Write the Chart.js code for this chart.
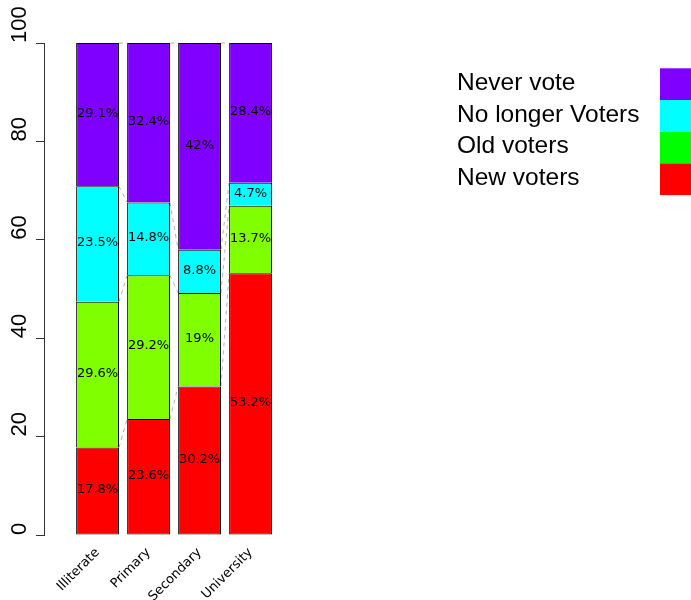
<!DOCTYPE html>
<html><head><meta charset="utf-8">
<script src="https://cdn.jsdelivr.net/npm/chart.js@4"></script>
<style>html,body{margin:0;padding:0;background:#fff;} canvas{display:block;}</style>
</head><body>
<canvas id="c" width="691" height="600"></canvas>
<script>
const categories = ['Illiterate', 'Primary', 'Secondary', 'University'];
const seriesNames = ['New voters', 'Old voters', 'No longer Voters', 'Never vote'];
const newVoters = [17.8, 23.6, 30.2, 53.2];
const oldVoters = [29.6, 29.2, 19, 13.7];
const noLongerVoters = [23.5, 14.8, 8.8, 4.7];
const neverVote = [29.1, 32.4, 42, 28.4];
const yTicks = [0, 20, 40, 60, 80, 100];
const barColors = ['#FF0000', '#80FF00', '#00FFFF', '#8000FF'];
const legendColors = ['#FF0000', '#00FF00', '#00FFFF', '#8000FF'];
const seriesValues = [newVoters, oldVoters, noLongerVoters, neverVote];

const datasets = seriesValues.map((vals, s) => ({
  label: seriesNames[s],
  data: vals.map((v, i) => ({x: i + 1, y: v})),
  backgroundColor: barColors[s],
  borderColor: '#000',
  borderWidth: 1,
  borderSkipped: s === 0 ? false : 'start',
  barPercentage: 0.84,
  categoryPercentage: 1
}));

const connectors = {
  id: 'connectors',
  beforeDatasetsDraw(chart) {
    const ctx = chart.ctx;
    const metas = chart.getSortedVisibleDatasetMetas();
    ctx.save();
    ctx.strokeStyle = '#B4B4B4';
    ctx.lineWidth = 1;
    ctx.setLineDash([4, 4]);
    metas.forEach(m => {
      for (let i = 0; i < m.data.length - 1; i++) {
        const a = m.data[i], b = m.data[i + 1];
        ctx.beginPath();
        ctx.moveTo(a.x + a.width / 2, a.y);
        ctx.lineTo(b.x - b.width / 2, b.y);
        ctx.stroke();
      }
    });
    ctx.restore();
  }
};

const valueLabels = {
  id: 'valueLabels',
  afterDatasetsDraw(chart) {
    const ctx = chart.ctx;
    ctx.save();
    ctx.font = '13px "DejaVu Sans"';
    ctx.textAlign = 'center';
    ctx.textBaseline = 'middle';
    ctx.fillStyle = '#000';
    chart.getSortedVisibleDatasetMetas().forEach(m => {
      m.data.forEach((el, i) => {
        ctx.fillText(seriesValues[m.index][i] + '%', el.x, (el.y + el.base) / 2 - 1);
      });
    });
    ctx.restore();
  }
};

const sideLegend = {
  id: 'sideLegend',
  afterDraw(chart) {
    const ctx = chart.ctx;
    const lx = 457, bx = 660, top = 68.3, rowH = 31.7;
    ctx.save();
    ctx.font = '24.5px "Liberation Sans"';
    ctx.textAlign = 'left';
    ctx.textBaseline = 'alphabetic';
    for (let r = 0; r < seriesNames.length; r++) {
      const s = seriesNames.length - 1 - r;
      ctx.fillStyle = legendColors[s];
      ctx.fillRect(bx, top + r * rowH, 40, rowH);
      ctx.fillStyle = '#000';
      ctx.fillText(seriesNames[s], lx, top + r * rowH + 21.7);
    }
    ctx.restore();
  }
};

new Chart(document.getElementById('c'), {
  type: 'bar',
  data: {datasets},
  plugins: [connectors, valueLabels, sideLegend],
  options: {
    responsive: false,
    animation: false,
    layout: {padding: {left: 20, top: 43, right: 389.45, bottom: 0}},
    plugins: {legend: {display: false}, tooltip: {enabled: false}},
    scales: {
      x: {
        type: 'linear', stacked: true, offset: false, min: -0.05, max: 5,
        afterBuildTicks: sc => { sc.ticks = categories.map((c, i) => ({value: i + 1})); },
        afterFit: sc => { sc.height = 65; sc.paddingLeft = 0; sc.paddingRight = 0; },
        grid: {display: false, drawTicks: false},
        border: {display: false},
        ticks: {
          autoSkip: false, minRotation: 45, maxRotation: 45, padding: 10,
          font: {family: 'DejaVu Sans', size: 13}, color: '#000',
          callback: v => categories[v - 1]
        }
      },
      y: {
        stacked: true, min: 0, max: 100,
        afterBuildTicks: sc => { sc.ticks = yTicks.map(v => ({value: v})); },
        afterFit: sc => { sc.width = 24; sc.paddingTop = 0; sc.paddingBottom = 0; },
        grid: {drawOnChartArea: false, drawTicks: true, tickLength: 8, color: '#333'},
        border: {display: true, color: '#333', width: 1},
        ticks: {
          minRotation: 90, maxRotation: 90, mirror: true, crossAlign: 'near', padding: -24,
          font: {family: 'Liberation Sans', size: 22}, color: '#000'
        }
      }
    }
  }
});
</script>
</body></html>
